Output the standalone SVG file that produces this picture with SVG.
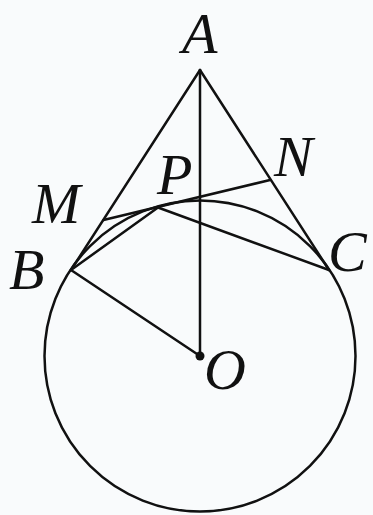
<svg xmlns="http://www.w3.org/2000/svg" width="373" height="515" viewBox="0 0 373 515">
<style>
.ln{stroke:#111;stroke-width:2.5;fill:none;stroke-linecap:round}
.lb{font-family:"Liberation Serif","Times New Roman",serif;font-style:italic;font-size:58px;fill:#111}
</style>
<rect width="373" height="515" fill="#f9fbfc"/>
<g id="connectors">
<circle class="ln" cx="200" cy="356" r="155.5"/>
<line class="ln" x1="200" y1="70" x2="71" y2="270"/>
<line class="ln" x1="200" y1="70" x2="329" y2="270"/>
<line class="ln" x1="200" y1="70" x2="200" y2="356"/>
<line class="ln" x1="71" y1="270" x2="200" y2="356"/>
<line class="ln" x1="103.5" y1="220" x2="270" y2="180"/>
<line class="ln" x1="71" y1="270" x2="158" y2="207.5"/>
<line class="ln" x1="158" y1="207.5" x2="329" y2="270"/>
</g>
<g id="O"><circle cx="200" cy="356" r="4.5" fill="#111"/><text class="lb" x="204" y="389">O</text></g>
<g id="A"><text class="lb" x="182" y="53">A</text></g>
<g id="P"><text class="lb" x="157" y="194">P</text></g>
<g id="N"><text class="lb" x="274" y="176">N</text></g>
<g id="M"><text class="lb" x="32" y="223">M</text></g>
<g id="B"><text class="lb" x="9" y="289">B</text></g>
<g id="C"><text class="lb" x="328" y="271">C</text></g>
</svg>
